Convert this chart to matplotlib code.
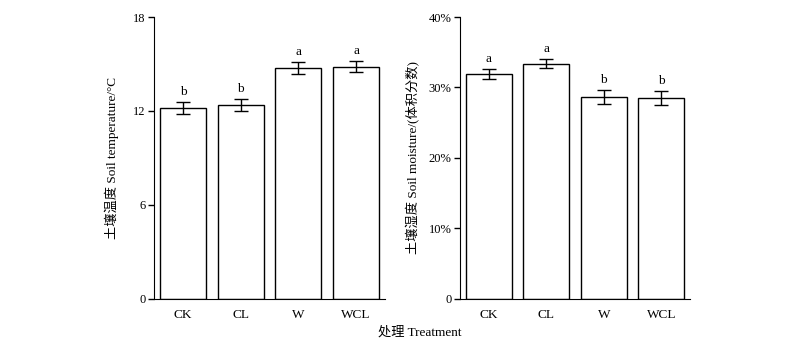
import matplotlib
matplotlib.use("Agg")
import matplotlib.pyplot as plt
from matplotlib.ticker import FuncFormatter

categories = ["CK", "CL", "W", "WCL"]
temp_mean = [12.21, 12.38, 14.74, 14.83]
temp_err = [0.37, 0.38, 0.38, 0.37]
temp_letters = ["b", "b", "a", "a"]
moist_mean = [31.9, 33.4, 28.7, 28.5]
moist_err = [0.75, 0.66, 1.0, 1.04]
moist_letters = ["a", "a", "b", "b"]

plt.rcParams['font.family'] = ['Liberation Serif', 'Noto Sans CJK SC']
plt.rcParams['font.size'] = 9

fig = plt.figure(figsize=(8, 3.52), dpi=100)
ax1 = fig.add_axes([0.1925, 0.1506, 0.28875, 0.8011])
ax2 = fig.add_axes([0.575, 0.1506, 0.2875, 0.8011])

def draw(ax, means, errs, letters, ylim, ticks, off):
    x = range(len(categories))
    ax.bar(x, means, width=0.8, color='white', edgecolor='black', linewidth=1.0)
    ax.errorbar(x, means, yerr=errs, fmt='none', ecolor='black', elinewidth=1.0,
                capsize=4.7, capthick=1.0)
    for xi, m, e, l in zip(x, means, errs, letters):
        ax.text(xi, m + e + off, l, ha='center', va='bottom', fontsize=9.5)
    ax.set_xlim(-0.5, 3.5)
    ax.set_ylim(*ylim)
    ax.set_yticks(ticks)
    ax.set_xticks(list(x))
    ax.set_xticklabels(categories, fontsize=9.5)
    ax.spines['top'].set_visible(False)
    ax.spines['right'].set_visible(False)
    ax.tick_params(axis='x', length=0, pad=7)
    ax.tick_params(axis='y', direction='out', length=4, width=1, pad=2)

draw(ax1, temp_mean, temp_err, temp_letters, (0, 18), [0, 6, 12, 18], 0.25)
draw(ax2, moist_mean, moist_err, moist_letters, (0, 40), [0, 10, 20, 30, 40], 0.55)
ax2.yaxis.set_major_formatter(FuncFormatter(lambda v, p: "0" if v == 0 else f"{v:.0f}%"))

ax1.set_ylabel("土壤温度 Soil temperature/°C", fontsize=9.5, labelpad=10)
ax2.set_ylabel("土壤湿度 Soil moisture/(体积分数)", fontsize=9.5, labelpad=6)
fig.text(0.525, 0.055, "处理 Treatment", ha='center', va='center', fontsize=9.5)

fig.savefig("out.png", dpi=100)
